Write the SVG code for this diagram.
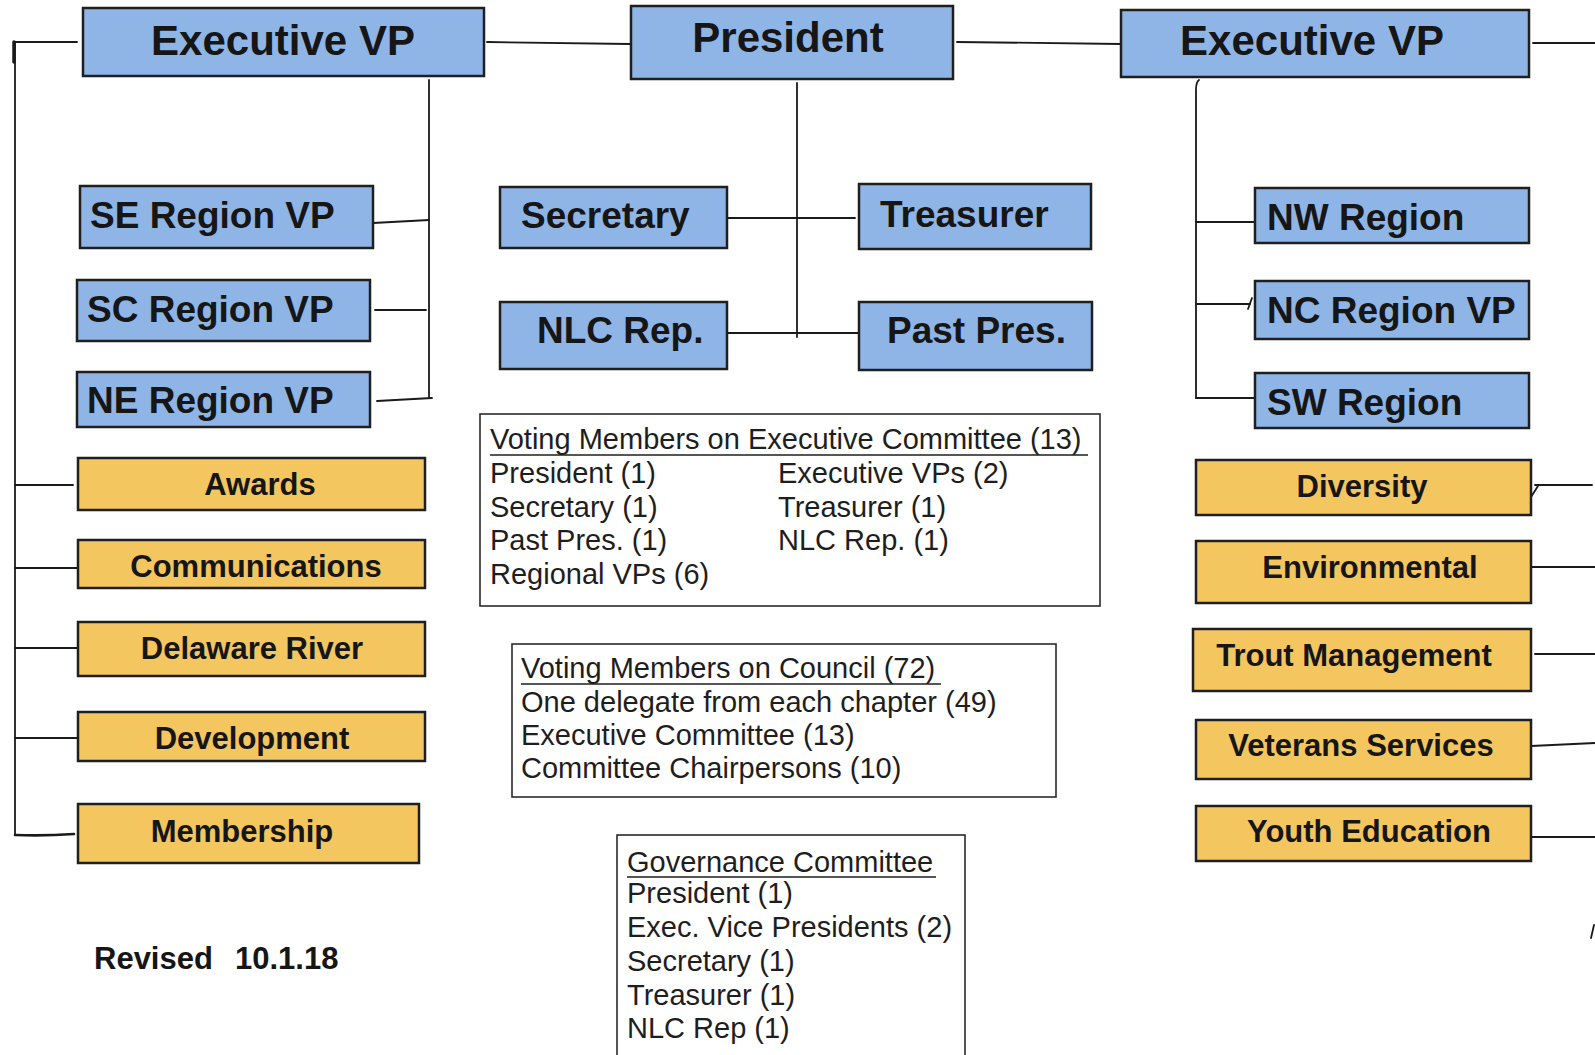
<svg xmlns="http://www.w3.org/2000/svg" width="1595" height="1055" viewBox="0 0 1595 1055">
<style>
  .blue { fill: #8fb5e6; stroke: #1f1f1f; stroke-width: 2.5; }
  .gold { fill: #f4c660; stroke: #1f1f1f; stroke-width: 2.5; }
  .info { fill: #ffffff; stroke: #2a2a2a; stroke-width: 1.6; }
  .big { font-family: "Liberation Sans", Arial, sans-serif; font-weight: bold; font-size: 42px; fill: #161616; }
  .mid { font-family: "Liberation Sans", Arial, sans-serif; font-weight: bold; font-size: 37px; fill: #161616; }
  .yel { font-family: "Liberation Sans", Arial, sans-serif; font-weight: bold; font-size: 31px; fill: #161616; text-anchor: middle; }
  .txt { font-family: "Liberation Sans", Arial, sans-serif; font-size: 29px; fill: #1e1e1e; }
  .rev { font-family: "Liberation Sans", Arial, sans-serif; font-weight: bold; font-size: 31px; fill: #161616; }
  .ln { stroke: #1a1a1a; stroke-width: 1.8; fill: none; stroke-linecap: round; }
  .ul { stroke: #1e1e1e; stroke-width: 1.5; }
</style>
<rect width="1595" height="1055" fill="#ffffff"/>

<g id="connectors" class="ln">
  <path d="M15,42 L15,835"/>
  <path d="M15,42 L77,42"/>
  <path d="M14,42 L14,62" style="stroke-width:3.5"/>
  <path d="M15,485 L73,485"/>
  <path d="M15,568 L78,568"/>
  <path d="M15,648 L78,648"/>
  <path d="M15,738 L78,738"/>
  <path d="M15,835 Q45,836 74,834" style="stroke-width:2.6"/>
  <path d="M487,42 L630,44"/>
  <path d="M957,42 L1121,44"/>
  <path d="M1533,43 L1595,43"/>
  <path d="M429,80 L429,398"/>
  <path d="M373,223 L429,220"/>
  <path d="M375,310 L426,310"/>
  <path d="M377,401 L432,398"/>
  <path d="M797,83 L797,337"/>
  <path d="M727,218 L855,218"/>
  <path d="M727,333 L859,333"/>
  <path d="M1199,80 Q1196,82 1196,90 L1196,398"/>
  <path d="M1196,222 L1255,222"/>
  <path d="M1196,304 L1250,304"/>
  <path d="M1248,309 L1252,298"/>
  <path d="M1196,398 L1255,398"/>
  <path d="M1535,485 L1592,485"/>
  <path d="M1529,476 L1531,497 L1538,486"/>
  <path d="M1531,567 L1595,567"/>
  <path d="M1535,654 L1595,654"/>
  <path d="M1531,746 L1595,743"/>
  <path d="M1528,837 L1595,837"/>
  <path d="M1591,938 L1594,925"/>
</g>

<g id="evp-left"><rect class="blue" x="83" y="8" width="401" height="68"/><text class="big" x="283" y="55" text-anchor="middle">Executive VP</text></g>
<g id="president"><rect class="blue" x="631" y="6" width="322" height="73"/><text class="big" x="788" y="52" text-anchor="middle">President</text></g>
<g id="evp-right"><rect class="blue" x="1121" y="10" width="408" height="67"/><text class="big" x="1312" y="55" text-anchor="middle">Executive VP</text></g>

<g id="se-region"><rect class="blue" x="80" y="186" width="293" height="62"/><text class="mid" x="90" y="228">SE Region VP</text></g>
<g id="sc-region"><rect class="blue" x="77" y="280" width="293" height="61"/><text class="mid" x="87" y="322">SC Region VP</text></g>
<g id="ne-region"><rect class="blue" x="77" y="372" width="293" height="55"/><text class="mid" x="87" y="413">NE Region VP</text></g>

<g id="secretary"><rect class="blue" x="500" y="187" width="227" height="61"/><text class="mid" x="521" y="228">Secretary</text></g>
<g id="treasurer"><rect class="blue" x="859" y="184" width="232" height="65"/><text class="mid" x="880" y="227">Treasurer</text></g>
<g id="nlc-rep"><rect class="blue" x="500" y="302" width="227" height="67"/><text class="mid" x="537" y="343">NLC Rep.</text></g>
<g id="past-pres"><rect class="blue" x="859" y="302" width="233" height="68"/><text class="mid" x="887" y="343">Past Pres.</text></g>

<g id="nw-region"><rect class="blue" x="1255" y="188" width="274" height="55"/><text class="mid" x="1267" y="230">NW Region</text></g>
<g id="nc-region"><rect class="blue" x="1255" y="281" width="274" height="58"/><text class="mid" x="1267" y="323">NC Region VP</text></g>
<g id="sw-region"><rect class="blue" x="1255" y="373" width="274" height="55"/><text class="mid" x="1267" y="415">SW Region</text></g>

<g id="awards"><rect class="gold" x="78" y="458" width="347" height="52"/><text class="yel" x="260" y="495">Awards</text></g>
<g id="communications"><rect class="gold" x="78" y="540" width="347" height="48"/><text class="yel" x="256" y="577">Communications</text></g>
<g id="delaware-river"><rect class="gold" x="78" y="622" width="347" height="54"/><text class="yel" x="252" y="659">Delaware River</text></g>
<g id="development"><rect class="gold" x="78" y="712" width="347" height="49"/><text class="yel" x="252" y="749">Development</text></g>
<g id="membership"><rect class="gold" x="78" y="804" width="341" height="59"/><text class="yel" x="242" y="842">Membership</text></g>

<g id="diversity"><rect class="gold" x="1196" y="460" width="335" height="55"/><text class="yel" x="1362" y="497">Diversity</text></g>
<g id="environmental"><rect class="gold" x="1196" y="541" width="335" height="62"/><text class="yel" x="1370" y="578">Environmental</text></g>
<g id="trout-management"><rect class="gold" x="1193" y="629" width="338" height="62"/><text class="yel" x="1354" y="666">Trout Management</text></g>
<g id="veterans-services"><rect class="gold" x="1196" y="720" width="335" height="59"/><text class="yel" x="1361" y="756">Veterans Services</text></g>
<g id="youth-education"><rect class="gold" x="1196" y="806" width="335" height="55"/><text class="yel" x="1369" y="842">Youth Education</text></g>

<g id="exec-committee">
  <rect class="info" x="480" y="414" width="620" height="192"/>
  <text class="txt" x="490" y="449">Voting Members on Executive Committee (13)</text>
  <line class="ul" x1="490" y1="455" x2="1088" y2="455"/>
  <text class="txt" x="490" y="483">President (1)</text>
  <text class="txt" x="490" y="517">Secretary (1)</text>
  <text class="txt" x="490" y="550">Past Pres. (1)</text>
  <text class="txt" x="490" y="584">Regional VPs (6)</text>
  <text class="txt" x="778" y="483">Executive VPs (2)</text>
  <text class="txt" x="778" y="517">Treasurer (1)</text>
  <text class="txt" x="778" y="550">NLC Rep. (1)</text>
</g>

<g id="council">
  <rect class="info" x="512" y="644" width="544" height="153"/>
  <text class="txt" x="521" y="678">Voting Members on Council (72)</text>
  <line class="ul" x1="521" y1="684" x2="941" y2="684"/>
  <text class="txt" x="521" y="712">One delegate from each chapter (49)</text>
  <text class="txt" x="521" y="745">Executive Committee (13)</text>
  <text class="txt" x="521" y="778">Committee Chairpersons (10)</text>
</g>

<g id="governance">
  <rect class="info" x="617" y="835" width="348" height="240"/>
  <text class="txt" x="627" y="872">Governance Committee</text>
  <line class="ul" x1="627" y1="877" x2="936" y2="877"/>
  <text class="txt" x="627" y="903">President (1)</text>
  <text class="txt" x="627" y="937">Exec. Vice Presidents (2)</text>
  <text class="txt" x="627" y="971">Secretary (1)</text>
  <text class="txt" x="627" y="1005">Treasurer (1)</text>
  <text class="txt" x="627" y="1038">NLC Rep (1)</text>
</g>

<g id="revised">
  <text class="rev" x="94" y="969">Revised</text>
  <text class="rev" x="235" y="969">10.1.18</text>
</g>
</svg>
